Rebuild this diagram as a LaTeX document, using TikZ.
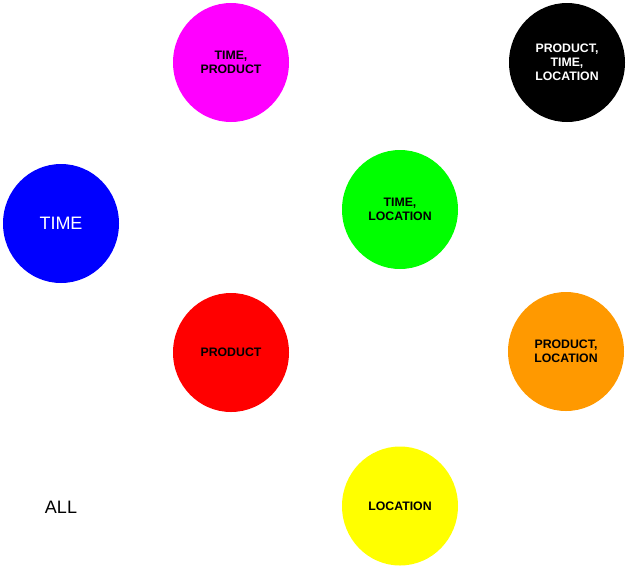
\documentclass[tikz,border=0pt]{standalone}
\usepackage{fontspec}
\setmainfont{Liberation Sans}
\usetikzlibrary{shapes.geometric}

\definecolor{cubemagenta}{RGB}{255,0,255}
\definecolor{cubegreen}{RGB}{0,255,0}
\definecolor{cubeorange}{RGB}{255,153,0}
\definecolor{cubeblue}{RGB}{0,0,255}
\definecolor{cubered}{RGB}{255,0,0}
\definecolor{cubeyellow}{RGB}{255,255,0}

\tikzset{
  cuboid/.style={ellipse, minimum width=116pt, minimum height=119pt, inner sep=0pt,
    align=center, font=\bfseries\fontsize{12.3}{14}\selectfont},
  bigtext/.style={font=\fontsize{18}{20}\selectfont}
}

\begin{document}
\begin{tikzpicture}[x=1pt,y=-1pt]
    % Size of the picture
    \useasboundingbox (0,0) rectangle (627,571);

    % 2-D cuboids
    \node[cuboid, fill=cubemagenta] (timeproduct) at (231,62.5) {TIME,\\PRODUCT};
    \node[cuboid, fill=cubegreen] (timelocation) at (400,209.5) {TIME,\\LOCATION};
    \node[cuboid, fill=cubeorange] (productlocation) at (566,351.5) {PRODUCT,\\LOCATION};

    % 3-D cuboid
    \node[cuboid, fill=black, text=white] (all3) at (567,62.5) {PRODUCT,\\TIME,\\LOCATION};

    % 1-D cuboids
    \node[cuboid, fill=cubeblue, text=white, bigtext] (time) at (61,223.5) {TIME};
    \node[cuboid, fill=cubered] (product) at (231,352.5) {PRODUCT};
    \node[cuboid, fill=cubeyellow] (location) at (400,506) {LOCATION};

    % 0-D cuboid
    \node[bigtext] (apex) at (61,507) {ALL};
  \end{tikzpicture}
\end{document}
